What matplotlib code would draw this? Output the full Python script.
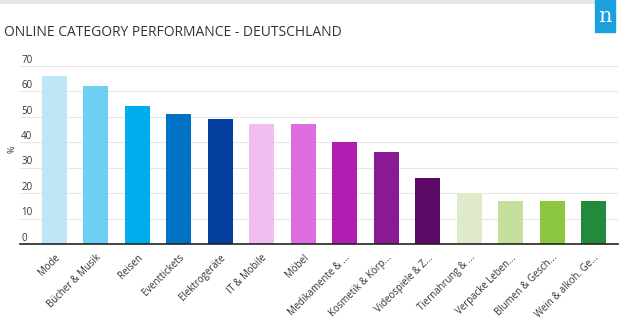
import matplotlib.pyplot as plt
from matplotlib.patches import Rectangle

# data
categories = ["Mode", "Bücher & Musik", "Reisen", "Eventtickets", "Elektrogeräte",
              "IT & Mobile", "Möbel", "Medikamente & ...", "Kosmetik & Körp...",
              "Videospiele & Z...", "Tiernahrung & ...", "Verpacke Leben...",
              "Blumen & Gesch...", "Wein & alkoh. Ge..."]
values = [66, 62, 54, 51, 49, 47, 47, 40, 36, 26, 20, 17, 17, 17]
colors = ["#bde7f7", "#6dd0f2", "#00aeef", "#0072c6", "#043e9e",
          "#f2bdef", "#dc6ee0", "#b11db0", "#8a1a94", "#5c0a66",
          "#dfeacb", "#c4de9c", "#8dc63f", "#238a3c"]
yticks = [0, 10, 20, 30, 40, 50, 60, 70]

plt.rcParams['font.family'] = ['Open Sans', 'DejaVu Sans']

fig = plt.figure(figsize=(6.2, 3.25), dpi=100)
ax = fig.add_axes([20 / 620, 81 / 325, 598 / 620, (244 - 65.7) / 325])

x = list(range(len(categories)))
ax.bar(x, values, width=0.6, color=colors, zorder=2)

ax.set_xlim(-0.83, 13.59)
ax.set_ylim(0, 70)
ax.set_yticks(yticks)
ax.set_yticklabels([])
ax.tick_params(axis='y', length=0)
ax.grid(axis='y', color='#e6e6e6', linewidth=0.8, zorder=0)
for t in yticks:
    ax.text(0.002, t + 2.2, str(t), transform=ax.get_yaxis_transform(),
            ha='left', va='center', fontsize=7, color='#333333')

ax.set_xticks(x)
ax.set_xticklabels(categories, rotation=45, ha='right', rotation_mode='anchor',
                   fontsize=6.9, color='#333333')
ax.tick_params(axis='x', length=0, pad=6)

for s in ['top', 'right', 'left']:
    ax.spines[s].set_visible(False)
ax.spines['bottom'].set_color('#222222')
ax.spines['bottom'].set_linewidth(1.2)

fig.text(12 / 620, 1 - 149 / 325, "%", rotation=90, fontsize=6.5, color='#333333',
         ha='center', va='center')

fig.text(4 / 620, 1 - 36.5 / 325, "ONLINE CATEGORY PERFORMANCE - DEUTSCHLAND",
         fontsize=10, color='#333333', ha='left', va='baseline')

# grey strip at the top and the logo box
fig.patches.append(Rectangle((0, 1 - 3 / 325), 594 / 620, 3 / 325,
                             transform=fig.transFigure, color='#e6e7ea'))
fig.patches.append(Rectangle((595 / 620, 1 - 32 / 325), 20 / 620, 32 / 325,
                             transform=fig.transFigure, color='#1aa0dc'))
fig.text(605 / 620, 1 - 17 / 325, "n", fontsize=15, color='white',
         family='DejaVu Serif', ha='center', va='center')

fig.savefig("out.png", dpi=100)
